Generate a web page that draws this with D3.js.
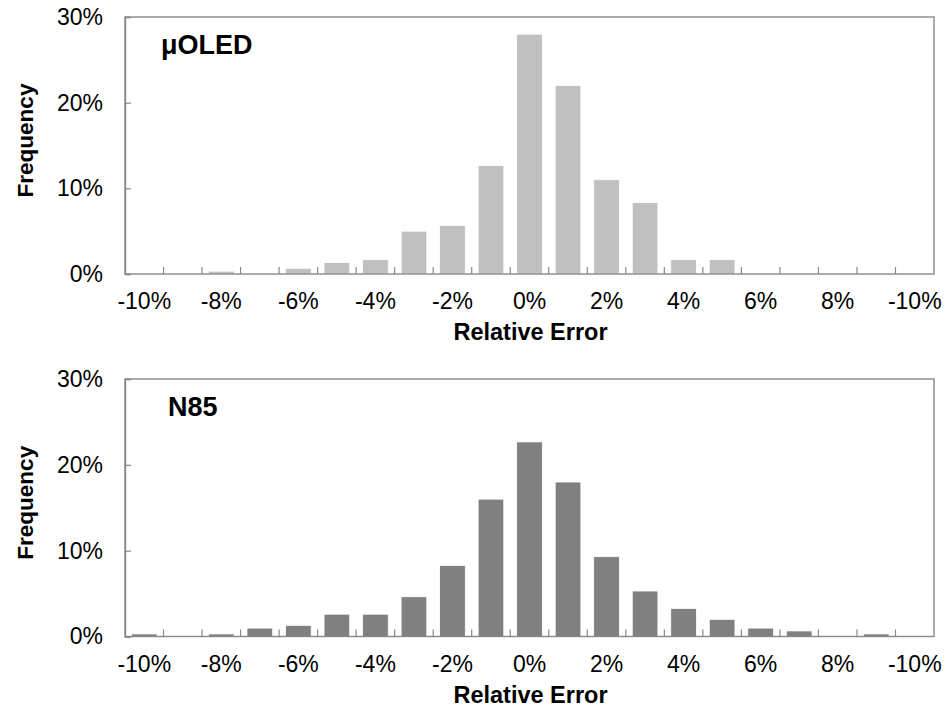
<!DOCTYPE html>
<html>
<head>
<meta charset="utf-8">
<script src="https://cdn.jsdelivr.net/npm/d3@7"></script>
<style>
    body { margin: 0; background: #fff; }
    svg { display: block; font-family: Arial, 'Liberation Sans', sans-serif; }
</style>
</head>
<body>
<svg id="chart" width="946" height="706"></svg>
<script>
// relative error bins, -10% .. 10%
const categories = [-10, -9, -8, -7, -6, -5, -4, -3, -2, -1, 0, 1, 2, 3, 4, 5, 6, 7, 8, 9, 10];
// only every other label shows; the last one really says -10% in the original
const xTickLabels = ['-10%', '', '-8%', '', '-6%', '', '-4%', '', '-2%', '', '0%', '', '2%', '', '4%', '', '6%', '', '8%', '', '-10%'];
const yTicks = [0, 0.1, 0.2, 0.3];

const oledValues = [0, 0, 0.0033, 0, 0.0067, 0.0133, 0.0167, 0.05, 0.0567, 0.1267, 0.28, 0.22, 0.11, 0.0833, 0.0167, 0.0167, 0, 0, 0, 0, 0];
const n85Values = [0.003, 0, 0.003, 0.0098, 0.013, 0.026, 0.026, 0.0463, 0.0828, 0.16, 0.2267, 0.18, 0.093, 0.053, 0.0327, 0.02, 0.0098, 0.0065, 0, 0.003, 0];

const panels = [
    { name: 'μOLED', values: oledValues, color: '#c0c0c0', top: 17, bottom: 274, labelX: 161 },
    { name: 'N85', values: n85Values, color: '#808080', top: 379, bottom: 636.5, labelX: 168 }
];

const svg = d3.select('#chart');
const left = 125, right = 934;
const axisColor = '#888';

const x = d3.scaleBand().domain(categories).range([left, right]).paddingInner(1 / 3).paddingOuter(1 / 6);
const step = x.step();
const gap = (step - x.bandwidth()) / 2;

panels.forEach(panel => {
    const y = d3.scaleLinear().domain([0, 0.3]).range([panel.bottom, panel.top]);
    const g = svg.append('g');

    g.selectAll('.bar').data(panel.values).join('rect').classed('bar', true)
        .attr('x', (_, i) => x(categories[i]))
        .attr('width', x.bandwidth())
        .attr('y', d => y(d))
        .attr('height', d => y(0) - y(d))
        .attr('fill', panel.color)
        .attr('stroke', '#fff')
        .attr('stroke-width', 0.8);

    // plot frame
    g.append('rect')
        .attr('x', left).attr('y', y(0.3))
        .attr('width', right - left).attr('height', y(0) - y(0.3))
        .attr('fill', 'none').attr('stroke', axisColor).attr('stroke-width', 1.4);

    // category boundary ticks, pointing up into the plot
    g.selectAll('.xtick').data(categories.slice(1)).join('line').classed('xtick', true)
        .attr('x1', c => x(c) - gap).attr('x2', c => x(c) - gap)
        .attr('y1', y(0)).attr('y2', y(0) - 7)
        .attr('stroke', axisColor).attr('stroke-width', 1.2);

    const yAxis = g.append('g')
        .attr('transform', `translate(${left},0)`)
        .call(d3.axisLeft(y).tickValues(yTicks).tickFormat(d3.format('.0%')).tickSize(-6).tickPadding(22));
    yAxis.select('.domain').attr('stroke', axisColor).attr('stroke-width', 1.4);
    yAxis.selectAll('.tick line').attr('stroke', axisColor).attr('stroke-width', 1.2);
    yAxis.selectAll('text').attr('font-size', 23).attr('font-family', null).attr('fill', '#000');

    const xAxis = g.append('g')
        .attr('transform', `translate(0,${y(0)})`)
        .call(d3.axisBottom(x).tickSize(0).tickPadding(19).tickFormat((_, i) => xTickLabels[i]));
    xAxis.select('.domain').remove();
    xAxis.selectAll('text').attr('font-size', 23).attr('font-family', null).attr('fill', '#000');

    g.append('text')
        .attr('x', (left + right) / 2 + 1).attr('y', y(0) + 66)
        .attr('text-anchor', 'middle')
        .attr('font-size', 23.5).attr('font-weight', 'bold')
        .text('Relative Error');

    g.append('text')
        .attr('transform', `translate(33,${(y(0) + y(0.3)) / 2 - 5}) rotate(-90)`)
        .attr('text-anchor', 'middle')
        .attr('font-size', 22.5).attr('font-weight', 'bold')
        .text('Frequency');

    g.append('text')
        .attr('x', panel.labelX).attr('y', y(0.3) + 37)
        .attr('font-size', 27).attr('font-weight', 'bold')
        .text(panel.name);
});
</script>
</body>
</html>
